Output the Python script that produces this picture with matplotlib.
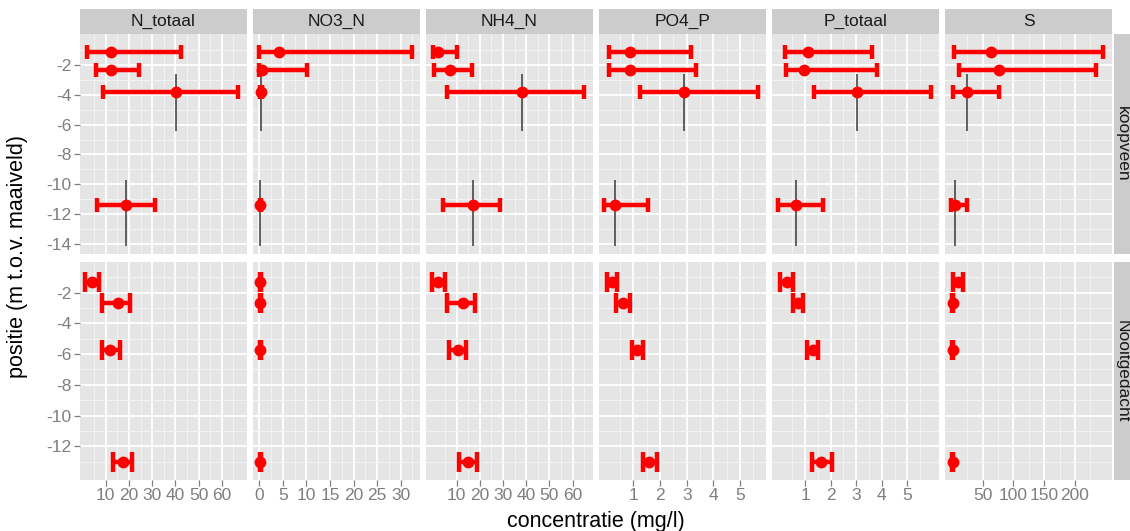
import numpy as np
import matplotlib
matplotlib.use("Agg")
import matplotlib.pyplot as plt

plt.rcParams['font.family'] = ['Liberation Sans', 'DejaVu Sans']

# facet labels
elements = ['N_totaal', 'NO3_N', 'NH4_N', 'PO4_P', 'P_totaal', 'S']
locations = ['koopveen', 'Nooitgedacht']

# sample depths (m t.o.v. maaiveld)
depth_koopveen = [-1.13, -2.33, -3.8, -11.4]
depth_nooitgedacht = [-1.28, -2.66, -5.75, -13.05]
# depth range of the filter (black lines), koopveen samples 3 and 4
filter_top = [-2.6, -9.7]
filter_bottom = [-6.4, -14.1]

# (mean, low, high) per depth
n_totaal_koop = [(12.2, 1.8, 42.3), (12.2, 5.8, 24.5), (40.3, 8.7, 67.2), (18.8, 6.1, 31.3)]
n_totaal_nooit = [(4.0, 1.1, 7.1), (15.4, 8.5, 20.5), (11.9, 8.3, 16.2), (17.3, 13.0, 21.2)]
no3_koop = [(4.25, 0.0, 32.4), (0.5, 0.0, 10.1), (0.3, 0.1, 0.5), (0.2, 0.05, 0.35)]
no3_nooit = [(0.2, 0.1, 0.3), (0.2, 0.1, 0.3), (0.2, 0.1, 0.3), (0.2, 0.1, 0.3)]
nh4_koop = [(2.1, 0.0, 10.3), (7.1, 0.2, 16.5), (38.0, 5.7, 64.9), (17.2, 4.0, 28.7)]
nh4_nooit = [(2.1, -0.8, 5.0), (12.6, 5.7, 17.9), (10.4, 6.8, 14.0), (15.0, 11.1, 18.9)]
po4_koop = [(0.87, 0.09, 3.16), (0.87, 0.09, 3.35), (2.9, 1.25, 5.68), (0.31, -0.1, 1.56)]
po4_nooit = [(0.2, 0.0, 0.4), (0.6, 0.35, 0.87), (1.15, 0.94, 1.37), (1.6, 1.35, 1.87)]
p_totaal_koop = [(1.13, 0.22, 3.63), (0.97, 0.26, 3.82), (3.04, 1.35, 5.91), (0.64, -0.04, 1.69)]
p_totaal_nooit = [(0.28, 0.02, 0.54), (0.72, 0.52, 0.93), (1.3, 1.07, 1.52), (1.63, 1.26, 2.04)]
s_koop = [(63.6, 3.4, 246.0), (76.6, 12.0, 234.0), (24.0, 1.3, 77.0), (5.0, -2.0, 24.0)]
s_nooit = [(10.0, 1.3, 18.6), (1.5, 0.5, 2.5), (1.5, 0.5, 2.5), (1.5, 0.5, 2.5)]

koop_data = [n_totaal_koop, no3_koop, nh4_koop, po4_koop, p_totaal_koop, s_koop]
nooit_data = [n_totaal_nooit, no3_nooit, nh4_nooit, po4_nooit, p_totaal_nooit, s_nooit]

# x axis ticks per element
x_ticks = [[10, 20, 30, 40, 50, 60],
           [0, 5, 10, 15, 20, 25, 30],
           [10, 20, 30, 40, 50, 60],
           [1, 2, 3, 4, 5],
           [1, 2, 3, 4, 5],
           [50, 100, 150, 200]]
x_limits = [(-1.1, 70.9), (-1.34, 34.1), (-3.2, 68.8), (-0.29, 5.97), (-0.29, 6.23), (-11.2, 260.3)]
y_ticks_koop = [-2, -4, -6, -8, -10, -12, -14]
y_ticks_nooit = [-2, -4, -6, -8, -10, -12]

W, H = 1130, 531
fig = plt.figure(figsize=(W / 100, H / 100), dpi=100)

def px_axes(x0, y0, w, h):
    return fig.add_axes([x0 / W, 1 - (y0 + h) / H, w / W, h / H])

def minor_of(ticks, lim):
    # ggplot style minor breaks: halfway between the major ones
    step = ticks[1] - ticks[0]
    cand = [t - step / 2 for t in ticks] + [ticks[-1] + step / 2]
    return [v for v in cand if min(lim) < v < max(lim)]

col_left = [80, 253, 426, 599, 772, 945]
panel_w = 167
row_top = [34, 262]
row_h = [220, 218]
tick_grey = '#7F7F7F'

for r, loc in enumerate(locations):
    depths = depth_koopveen if r == 0 else depth_nooitgedacht
    rows_data = koop_data if r == 0 else nooit_data
    yt = y_ticks_koop if r == 0 else y_ticks_nooit
    ylim = (-14.65, 0.05) if r == 0 else (-14.2, 0.0)
    capsize = 5.2 if r == 0 else 7.0
    for c, el in enumerate(elements):
        ax = px_axes(col_left[c], row_top[r], panel_w, row_h[r])
        ax.set_facecolor('#E5E5E5')
        for sp in ax.spines.values():
            sp.set_visible(False)
        ax.set_xlim(x_limits[c])
        ax.set_ylim(ylim)
        ax.set_xticks(x_ticks[c])
        ax.set_yticks(yt)
        ax.set_xticks(minor_of(x_ticks[c], x_limits[c]), minor=True)
        ax.set_yticks(minor_of(yt, ylim), minor=True)
        ax.grid(True, which='minor', color='#F2F2F2', lw=0.8)
        ax.grid(True, which='major', color='white', lw=1.3)
        ax.set_axisbelow(True)
        ax.tick_params(which='minor', length=0)
        ax.tick_params(which='major', color=tick_grey, length=4, width=0.9,
                       labelcolor=tick_grey, labelsize=12.5, pad=2)
        if c == 0:
            ax.set_yticklabels(['%d' % t for t in yt])
        else:
            ax.tick_params(axis='y', left=False, labelleft=False)
        if r == 1:
            ax.set_xticklabels(['%g' % t for t in x_ticks[c]])
        else:
            ax.tick_params(axis='x', bottom=False, labelbottom=False)

        mids = [d[0] for d in rows_data[c]]
        lows = [d[0] - d[1] for d in rows_data[c]]
        highs = [d[2] - d[0] for d in rows_data[c]]
        if r == 0:
            ax.vlines([mids[2], mids[3]], filter_bottom, filter_top,
                      color='#3A3A3A', lw=1.1, zorder=2)
        ax.errorbar(mids, depths, xerr=[lows, highs], fmt='o', color='#FF0000',
                    ms=7.5, elinewidth=3.2, capsize=capsize, capthick=3.2, zorder=3)

        # strips
        if r == 0:
            sax = px_axes(col_left[c], 9, panel_w, 25)
            sax.set_facecolor('#CCCCCC')
            sax.set_xticks([]); sax.set_yticks([])
            for sp in sax.spines.values():
                sp.set_visible(False)
            sax.text(0.5, 0.5, el, ha='center', va='center', fontsize=12.5,
                     color='#1A1A1A', transform=sax.transAxes)
    rax = px_axes(1114, row_top[r], 30, row_h[r])
    rax.set_facecolor('#CCCCCC')
    rax.set_xticks([]); rax.set_yticks([])
    for sp in rax.spines.values():
        sp.set_visible(False)
    fig.text(1122 / W, 1 - (row_top[r] + row_h[r] / 2) / H, loc, rotation=-90,
             ha='center', va='center', fontsize=12.5, color='#1A1A1A')

fig.text(18 / W, 1 - 257 / H, 'positie (m t.o.v. maaiveld)', rotation=90,
         ha='center', va='center', fontsize=15.5)
fig.text(596 / W, 1 - 521 / H, 'concentratie (mg/l)', ha='center', va='center',
         fontsize=15.5)

fig.savefig('out.png', dpi=100)
